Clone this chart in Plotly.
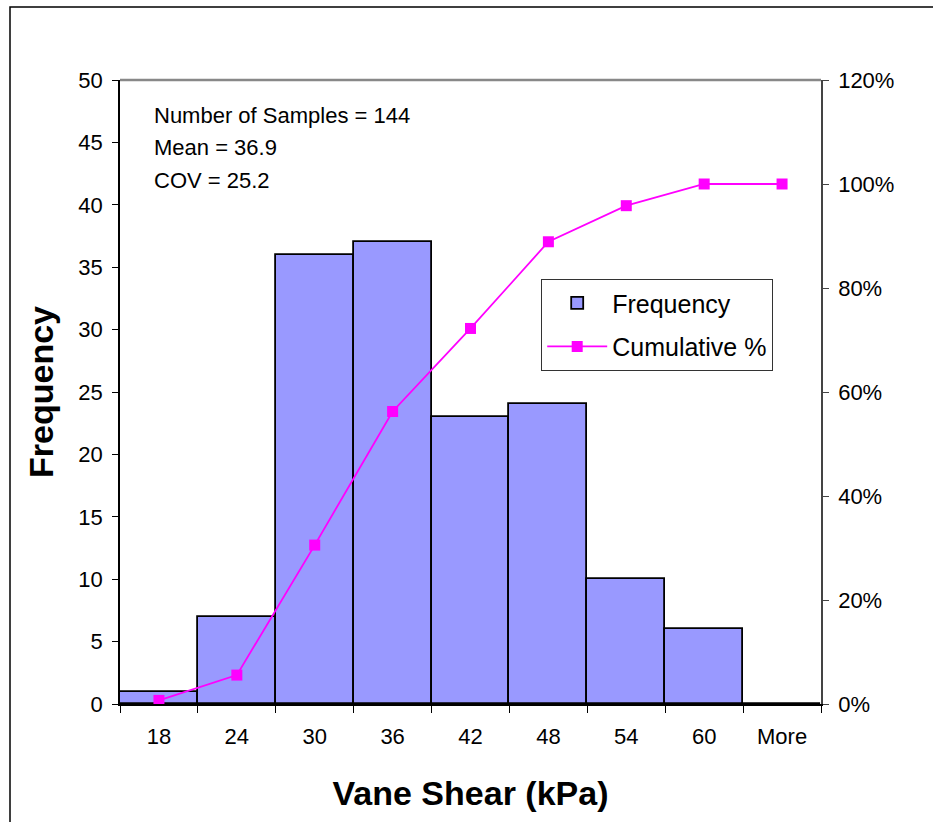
import plotly.graph_objects as go

categories = ["18", "24", "30", "36", "42", "48", "54", "60", "More"]
frequency = [1, 7, 36, 37, 23, 24, 10, 6, 0]
cumulative = [0.0069, 0.0556, 0.3056, 0.5625, 0.7222, 0.8889, 0.9583, 1.0, 1.0]
stats_lines = ["Number of Samples = 144", "Mean = 36.9", "COV = 25.2"]

FONT = "Liberation Sans, Arial, sans-serif"
W, H = 933, 822
L, R, T, B = 120, 112, 80, 118
pw, ph = W - L - R, H - T - B

fig = go.Figure()
fig.add_trace(go.Bar(
    x=categories, y=frequency, name="Frequency",
    marker=dict(color="#9999FF", line=dict(color="black", width=1.8)),
    legendgroup="a",
))
fig.add_trace(go.Scatter(
    x=categories, y=cumulative, name="Cumulative %", yaxis="y2",
    mode="lines+markers",
    line=dict(color="#FF00FF", width=1.8),
    marker=dict(symbol="square", size=11, color="#FF00FF"),
    legendgroup="b",
))

def px_x(p):
    return (p - L) / pw

def px_y(p):
    return 1 - (p - T) / ph

annotations = []
for i, s in enumerate(stats_lines):
    annotations.append(dict(
        text=s, xref="paper", yref="paper", x=px_x(152), y=px_y(115 + i * 32.5),
        xanchor="left", yanchor="middle", showarrow=False,
        font=dict(family=FONT, size=22, color="black"),
    ))

fig.update_layout(
    width=W, height=H,
    margin=dict(l=L, r=R, t=T, b=B),
    paper_bgcolor="white", plot_bgcolor="white",
    bargap=0,
    font=dict(family=FONT, color="black", size=22),
    xaxis=dict(
        type="category", tickson="boundaries", ticks="outside", ticklen=7,
        tickcolor="black", tickwidth=1, showline=True, linecolor="black", linewidth=2,
        mirror=False, showgrid=False, range=[-0.5, 8.5],
        tickfont=dict(size=22), ticklabelstandoff=12,
        title=dict(text="<b>Vane Shear (kPa)</b>", font=dict(size=34), standoff=33),
    ),
    yaxis=dict(
        range=[0, 50], dtick=5, ticks="outside", ticklen=6, tickcolor="black",
        showline=True, linecolor="black", linewidth=1.5, showgrid=False, zeroline=False,
        tickfont=dict(size=22), ticklabelstandoff=5,
        title=dict(text="<b>Frequency</b>", font=dict(size=34), standoff=14),
    ),
    yaxis2=dict(
        overlaying="y", side="right", range=[0, 1.2], dtick=0.2, tickformat=".0%",
        ticks="outside", ticklen=6, tickcolor="#444", showline=True, linecolor="#444",
        linewidth=1.5, showgrid=False, zeroline=False, tickfont=dict(size=22),
        ticklabelstandoff=5,
    ),
    legend=dict(
        x=px_x(541), y=px_y(279), xanchor="left", yanchor="top",
        bordercolor="#333", borderwidth=1.2, bgcolor="white",
        font=dict(size=25), tracegroupgap=8, itemwidth=60,
    ),
    annotations=annotations,
    shapes=[
        dict(type="line", xref="paper", yref="paper", x0=0, x1=1, y0=1, y1=1,
             line=dict(color="#888", width=2.5)),
        dict(type="rect", xref="paper", yref="paper",
             x0=px_x(10), x1=px_x(940), y0=px_y(830), y1=px_y(7),
             line=dict(color="black", width=1.5), layer="below"),
    ],
    showlegend=True,
)

fig.write_html("out.html")
